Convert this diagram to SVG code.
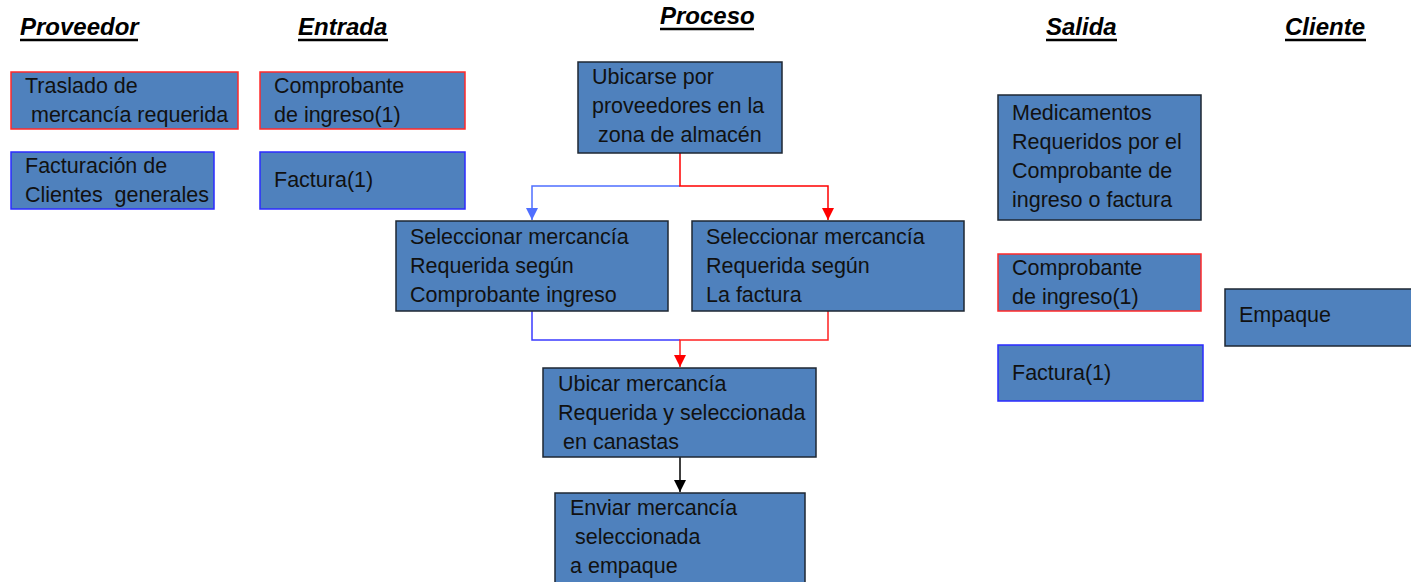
<svg xmlns="http://www.w3.org/2000/svg" width="1411" height="582" viewBox="0 0 1411 582">
<style>
.box{fill:#4f81bd;stroke:#1e2733;stroke-width:1.5}
.red{stroke:#ff2a2a}
.blue{stroke:#2b2bff}
.t{font-family:"Liberation Sans",Arial,sans-serif;font-size:21.5px;fill:#111}
.h{font-family:"Liberation Sans",Arial,sans-serif;font-size:24px;font-weight:bold;font-style:italic;fill:#000}
.ul{stroke:#000;stroke-width:2.5}
.c{fill:none;stroke-width:1.5}
</style>
<defs>
<marker id="ab" viewBox="0 0 12 12" refX="6" refY="12" markerWidth="12" markerHeight="12" markerUnits="userSpaceOnUse"><path d="M0,0 L12,0 L6,12 Z" fill="#4f6fff"/></marker>
<marker id="ar" viewBox="0 0 12 12" refX="6" refY="12" markerWidth="12" markerHeight="12" markerUnits="userSpaceOnUse"><path d="M0,0 L12,0 L6,12 Z" fill="#ff0000"/></marker>
<marker id="ak" viewBox="0 0 12 12" refX="6" refY="12" markerWidth="12" markerHeight="12" markerUnits="userSpaceOnUse"><path d="M0,0 L12,0 L6,12 Z" fill="#000"/></marker>
</defs>
<rect width="1411" height="582" fill="#fff"/>
<g id="headers">
<text class="h" x="20" y="35">Proveedor</text><line class="ul" x1="20" y1="40" x2="138" y2="40"/>
<text class="h" x="298" y="35">Entrada</text><line class="ul" x1="298" y1="40" x2="388" y2="40"/>
<text class="h" x="660" y="24">Proceso</text><line class="ul" x1="660" y1="29" x2="754" y2="29"/>
<text class="h" x="1046" y="35">Salida</text><line class="ul" x1="1046" y1="40" x2="1117" y2="40"/>
<text class="h" x="1285" y="35">Cliente</text><line class="ul" x1="1285" y1="40" x2="1366" y2="40"/>
</g>
<g id="connectors">
<path class="c" stroke="#4f6fff" d="M680,186 H532 V220" marker-end="url(#ab)"/>
<path class="c" stroke="#ff0000" d="M680,153 V186 H828 V220" marker-end="url(#ar)"/>
<path class="c" stroke="#3b3bff" d="M532,311 V340 H680"/>
<path class="c" stroke="#ff2020" d="M828,311 V340 H680 V367" marker-end="url(#ar)"/>
<path class="c" stroke="#000" d="M680,457 V492" marker-end="url(#ak)"/>
</g>
<g id="traslado"><rect class="box red" x="11" y="72" width="227" height="57"/>
<text class="t" x="25" y="93">Traslado de</text><text class="t" x="31" y="122">mercancía requerida</text></g>
<g id="facturacion"><rect class="box blue" x="11" y="152" width="203" height="57"/>
<text class="t" x="25" y="173">Facturación de</text><text class="t" x="25" y="202" xml:space="preserve">Clientes  generales</text></g>
<g id="comprobante-entrada"><rect class="box red" x="260" y="72" width="205" height="57"/>
<text class="t" x="274" y="93">Comprobante</text><text class="t" x="274" y="122">de ingreso(1)</text></g>
<g id="factura-entrada"><rect class="box blue" x="260" y="152" width="205" height="57"/>
<text class="t" x="274" y="187">Factura(1)</text></g>
<g id="ubicarse"><rect class="box" x="578" y="62" width="204" height="91"/>
<text class="t" x="592" y="84">Ubicarse por</text><text class="t" x="592" y="113">proveedores en la</text><text class="t" x="598" y="142">zona de almacén</text></g>
<g id="sel-comprobante"><rect class="box" x="396" y="221" width="272" height="90"/>
<text class="t" x="410" y="244">Seleccionar mercancía</text><text class="t" x="410" y="273">Requerida según</text><text class="t" x="410" y="302">Comprobante ingreso</text></g>
<g id="sel-factura"><rect class="box" x="692" y="221" width="272" height="90"/>
<text class="t" x="706" y="244">Seleccionar mercancía</text><text class="t" x="706" y="273">Requerida según</text><text class="t" x="706" y="302">La factura</text></g>
<g id="ubicar"><rect class="box" x="543" y="368" width="273" height="89"/>
<text class="t" x="558" y="391">Ubicar mercancía</text><text class="t" x="558" y="420">Requerida y seleccionada</text><text class="t" x="563" y="449">en canastas</text></g>
<g id="enviar"><rect class="box" x="555" y="493" width="250" height="95"/>
<text class="t" x="570" y="515">Enviar mercancía</text><text class="t" x="575" y="544">seleccionada</text><text class="t" x="570" y="573">a empaque</text></g>
<g id="medicamentos"><rect class="box" x="998" y="95" width="203" height="125"/>
<text class="t" x="1012" y="120">Medicamentos</text><text class="t" x="1012" y="149">Requeridos por el</text><text class="t" x="1012" y="178">Comprobante de</text><text class="t" x="1012" y="207">ingreso o factura</text></g>
<g id="comprobante-salida"><rect class="box red" x="998" y="254" width="203" height="57"/>
<text class="t" x="1012" y="275">Comprobante</text><text class="t" x="1012" y="304">de ingreso(1)</text></g>
<g id="factura-salida"><rect class="box blue" x="998" y="345" width="205" height="56"/>
<text class="t" x="1012" y="380">Factura(1)</text></g>
<g id="empaque"><rect class="box" x="1225" y="289" width="192" height="57"/>
<text class="t" x="1239" y="322">Empaque</text></g>
</svg>
